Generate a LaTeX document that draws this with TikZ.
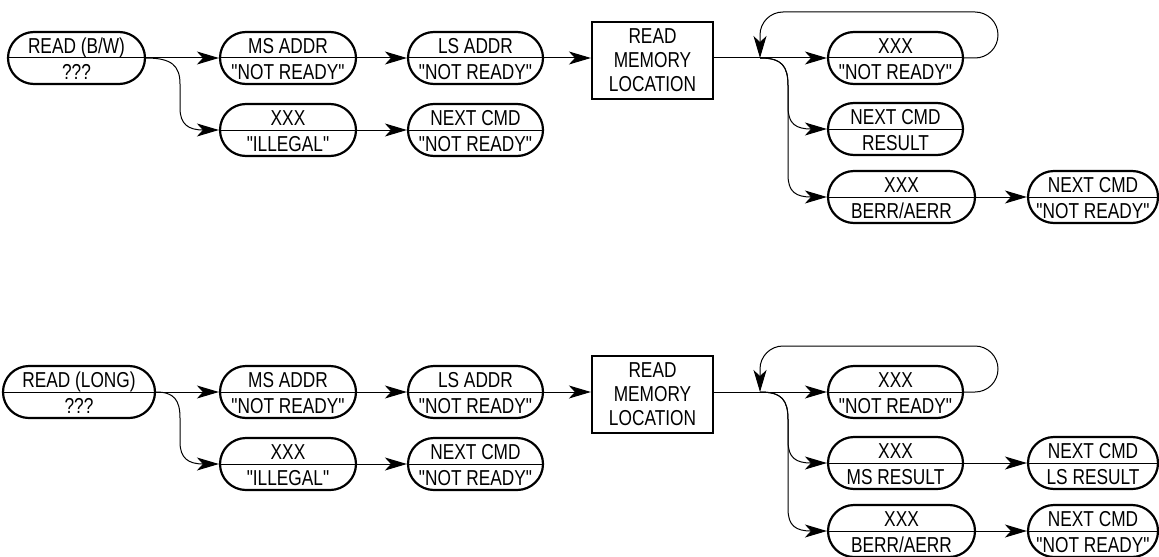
\documentclass[tikz,border=0pt]{standalone}
\usepackage{fontspec}
\setmainfont{Liberation Sans}[FakeStretch=0.8, Ligatures=TeXOff]
\usetikzlibrary{arrows.meta}
\newcommand{\stq}{\symbol{34}}
\tikzset{
  ovalst/.style={draw, line width=1.1pt, rounded corners=13pt, minimum height=26pt, inner sep=0pt},
  divider/.style={line width=0.5pt},
  lbl/.style={inner sep=0pt, font=\fontsize{10.8}{12}\selectfont},
  memst/.style={draw, line width=1.1pt, minimum width=60.5pt, minimum height=38.5pt, align=center, inner sep=0pt, font=\fontsize{10.8}{12}\selectfont},
  arr/.style={line width=0.5pt, -{Stealth[length=11pt,width=6.5pt,inset=3pt]}},
  looparr/.style={arr, rounded corners=11.5pt},
}
\newcommand{\statenode}[6]{%
  \node[ovalst, minimum width=#4] (#1) at (#2,#3) {};
  \draw[divider] (#1.west) -- (#1.east);
  \node[lbl, anchor=base] (#1-t) at ([yshift=2.2pt]#1.center) {#5};
  \node[lbl, anchor=base] (#1-b) at ([yshift=-10.6pt]#1.center) {#6};
}
\begin{document}
\begin{tikzpicture}[x=0.5pt,y=-0.5pt]
\useasboundingbox (0,0) rectangle (1159,556);
% ---------- top diagram ----------
\statenode{rbw}{76.5}{58}{68.5pt}{READ (B/W)}{???}
\statenode{msa}{288}{58}{68pt}{MS ADDR}{\stq NOT READY\stq}
\statenode{ill}{288}{130}{68pt}{XXX}{\stq ILLEGAL\stq}
\statenode{lsa}{475.5}{58}{67.5pt}{LS ADDR}{\stq NOT READY\stq}
\statenode{nca}{475.5}{130}{67.5pt}{NEXT CMD}{\stq NOT READY\stq}
\node[memst] (mem1) at (652.5,60.5) {READ\\MEMORY\\LOCATION};
\coordinate (j1) at (760,58);
\statenode{nr1}{895.5}{58}{67.5pt}{XXX}{\stq NOT READY\stq}
\statenode{res1}{895.5}{129}{67.5pt}{NEXT CMD}{RESULT}
\statenode{err1}{901.5}{197}{73.5pt}{XXX}{BERR/AERR}
\statenode{ncb}{1093}{197}{65pt}{NEXT CMD}{\stq NOT READY\stq}

\draw[arr] (rbw.east) -- (msa.west);
\draw[arr] (rbw.east) .. controls (172,58) and (180,66) .. (180,84) -- (180,108) .. controls (180,124) and (188,130) .. (ill.west);
\draw[arr] (msa.east) -- (lsa.west);
\draw[arr] (ill.east) -- (nca.west);
\draw[arr] (lsa.east) -- (lsa.east -| mem1.west);
\draw[arr] (mem1.east |- j1) -- (nr1.west);
\draw[looparr] (nr1.east) -- (998,58) -- (998,12) -- (760,12) -- (j1);
\draw[arr] (j1) .. controls (782,58) and (788,66) .. (788,86) -- (788,107) .. controls (788,124) and (796,129) .. (res1.west);
\draw[arr] (j1) .. controls (782,58) and (788,66) .. (788,86) -- (788,175) .. controls (788,192) and (796,197) .. (err1.west);
\draw[arr] (err1.east) -- (ncb.west);

% ---------- bottom diagram ----------
\statenode{rlg}{79}{392}{76pt}{READ (LONG)}{???}
\statenode{msb}{288}{392}{68pt}{MS ADDR}{\stq NOT READY\stq}
\statenode{illb}{288}{464}{68pt}{XXX}{\stq ILLEGAL\stq}
\statenode{lsb}{475.5}{392}{67.5pt}{LS ADDR}{\stq NOT READY\stq}
\statenode{ncc}{475.5}{464}{67.5pt}{NEXT CMD}{\stq NOT READY\stq}
\node[memst] (mem2) at (652.5,394.5) {READ\\MEMORY\\LOCATION};
\coordinate (j2) at (760,392);
\statenode{nr2}{895.5}{392}{67.5pt}{XXX}{\stq NOT READY\stq}
\statenode{msr}{895.5}{463}{67.5pt}{XXX}{MS RESULT}
\statenode{lsr}{1093}{463}{65pt}{NEXT CMD}{LS RESULT}
\statenode{err2}{901.5}{531}{73.5pt}{XXX}{BERR/AERR}
\statenode{ncd}{1093}{531}{65pt}{NEXT CMD}{\stq NOT READY\stq}

\draw[arr] (rlg.east) -- (msb.west);
\draw[arr] (rlg.east) .. controls (174,392) and (180,400) .. (180,418) -- (180,442) .. controls (180,458) and (188,464) .. (illb.west);
\draw[arr] (msb.east) -- (lsb.west);
\draw[arr] (illb.east) -- (ncc.west);
\draw[arr] (lsb.east) -- (lsb.east -| mem2.west);
\draw[arr] (mem2.east |- j2) -- (nr2.west);
\draw[looparr] (nr2.east) -- (998,392) -- (998,346) -- (760,346) -- (j2);
\draw[arr] (j2) .. controls (782,392) and (788,400) .. (788,420) -- (788,441) .. controls (788,458) and (796,463) .. (msr.west);
\draw[arr] (j2) .. controls (782,392) and (788,400) .. (788,420) -- (788,509) .. controls (788,526) and (796,531) .. (err2.west);
\draw[arr] (msr.east) -- (lsr.west);
\draw[arr] (err2.east) -- (ncd.west);
\end{tikzpicture}
\end{document}
